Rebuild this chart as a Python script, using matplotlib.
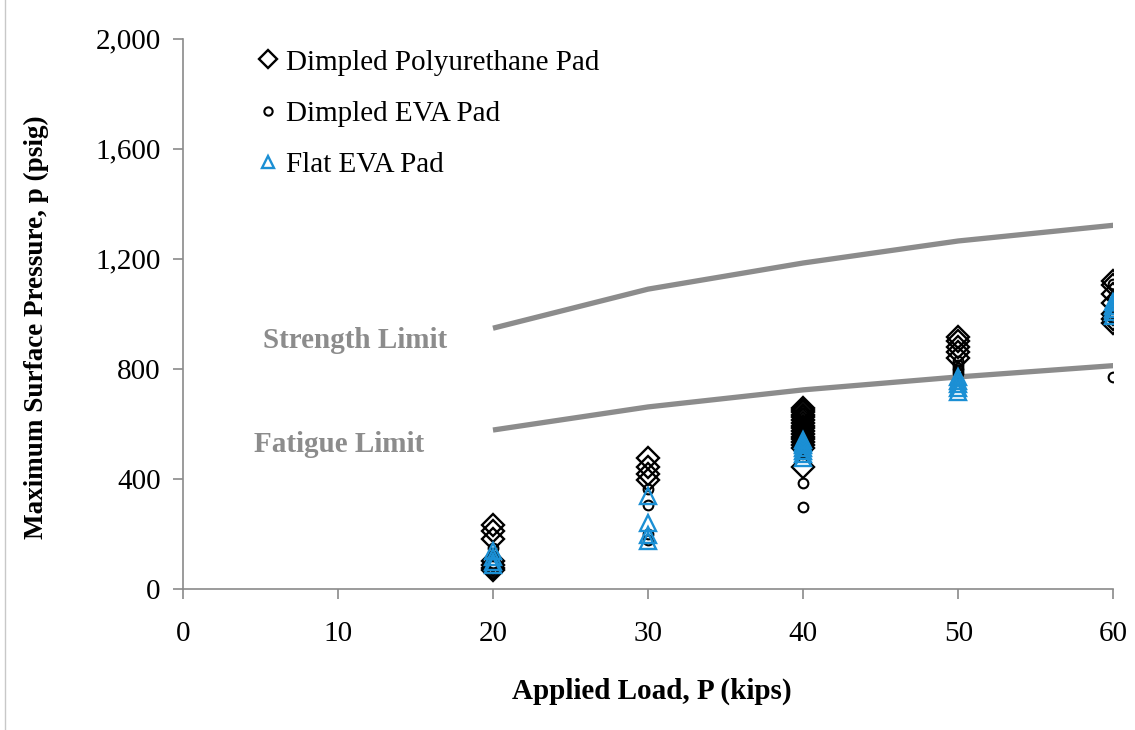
import matplotlib
matplotlib.use("Agg")
import matplotlib.pyplot as plt
import numpy as np
from matplotlib.lines import Line2D
from matplotlib.ticker import FuncFormatter

plt.rcParams['font.family'] = ['Liberation Serif', 'DejaVu Serif']

# limit curves
limit_x = [20, 30, 40, 50, 60]
strength_limit = [948, 1090, 1185, 1265, 1322]
fatigue_limit = [578, 662, 724, 771, 812]

# Dimpled Polyurethane Pad
pu_x = [20]*7 + [30]*4 + [40]*17 + [50]*5 + [60]*7
pu_y = [232, 212, 182, 102, 88, 76, 68,
        476, 442, 418, 398,
        658, 650, 642, 634, 624, 614, 604, 594, 584, 574, 564, 554, 544, 534, 524, 512, 445,
        915, 900, 878, 862, 840,
        1118, 1105, 1072, 1040, 1000, 982, 966]

# Dimpled EVA Pad
eva_x = [20]*3 + [30]*4 + [40]*9 + [50]*5 + [60]*5
eva_y = [150, 120, 96,
         362, 305, 200, 178,
         640, 605, 585, 565, 545, 522, 500, 385, 298,
         830, 815, 805, 795, 785,
         1110, 1058, 1002, 988, 772]

# Flat EVA Pad
flat_x = [20]*4 + [30]*4 + [40]*7 + [50]*5 + [60]*5
flat_y = [140, 115, 100, 88,
          338, 240, 195, 175,
          542, 532, 522, 512, 502, 490, 478,
          772, 758, 745, 730, 718,
          1042, 1030, 1018, 1006, 994]

gray = '#8c8c8c'
blue = '#1b8fd4'

fig = plt.figure(figsize=(11.35, 7.3), dpi=100)
ax = fig.add_axes([0.161, 0.193, 0.82, 0.754])

ax.plot(limit_x, strength_limit, color=gray, lw=3.8, solid_capstyle='butt', zorder=1)
ax.plot(limit_x, fatigue_limit, color=gray, lw=3.8, solid_capstyle='butt', zorder=1)

ax.plot(pu_x, pu_y, ls='none', marker='D', ms=11, mfc='none', mec='black', mew=1.7,
        label='Dimpled Polyurethane Pad', zorder=2)
ax.plot(eva_x, eva_y, ls='none', marker='o', ms=7, mfc='none', mec='black', mew=1.5,
        label='Dimpled EVA Pad', zorder=3)
ax.plot(flat_x, flat_y, ls='none', marker='^', ms=11, mfc='none', mec=blue, mew=1.7,
        label='Flat EVA Pad', zorder=4)

ax.text(11.1, 905, 'Strength Limit', color=gray, fontsize=21, fontweight='bold',
        ha='center', va='center')
ax.text(10.1, 527, 'Fatigue Limit', color=gray, fontsize=21, fontweight='bold',
        ha='center', va='center')

ax.set_xlim(0, 60)
ax.set_ylim(0, 2000)
ax.set_xticks(range(0, 61, 10))
ax.set_yticks(range(0, 2001, 400))
ax.yaxis.set_major_formatter(FuncFormatter(lambda v, p: f'{int(v):,}'))

for s in ['top', 'right']:
    ax.spines[s].set_visible(False)
for s in ['left', 'bottom']:
    ax.spines[s].set_color('#8a8a8a')
    ax.spines[s].set_linewidth(1.2)
ax.tick_params(axis='both', colors='#8a8a8a', labelcolor='black', labelsize=21,
               length=7, width=1.2, direction='out')
ax.tick_params(axis='x', pad=16)
ax.tick_params(axis='y', pad=9)

ax.set_xlabel('Applied Load, P (kips)', fontsize=21, fontweight='bold')
ax.xaxis.set_label_coords(0.504, -0.185)
ax.set_ylabel('Maximum Surface Pressure, p (psig)', fontsize=19.5, fontweight='bold')
ax.yaxis.set_label_coords(-0.157, 0.475)
ax.yaxis.label.set_va('center')
ax.xaxis.label.set_va('center')

ax.legend(loc='upper left', bbox_to_anchor=(0.07, 1.002), frameon=False, fontsize=21,
          handlelength=0.6, handletextpad=0.3, labelspacing=0.85, borderaxespad=0,
          markerscale=0.85)

# page border line on the left edge
fig.add_artist(Line2D([5/1135, 5/1135], [0, 1], color='#c8c8c8', lw=1))

fig.savefig('out.png', dpi=100)
